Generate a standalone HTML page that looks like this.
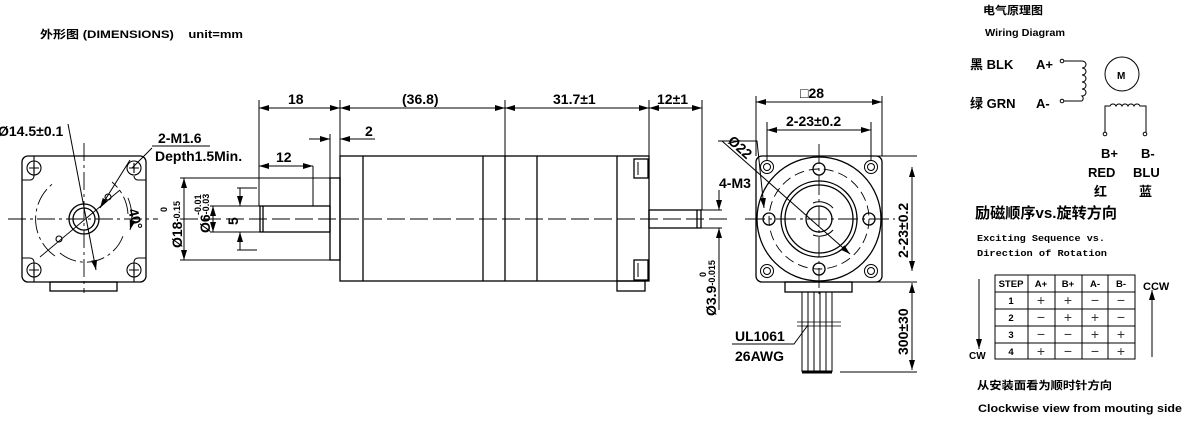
<!DOCTYPE html>
<html><head><meta charset="utf-8"><style>
html,body{margin:0;padding:0;background:#fff;}
svg{display:block;font-family:"Liberation Sans","Noto Sans CJK SC",sans-serif;}
.d{font-weight:bold;font-size:14px;}
</style></head><body>
<svg width="1195" height="421" viewBox="0 0 1195 421" xmlns="http://www.w3.org/2000/svg">
<defs>
<marker id="a" viewBox="0 0 10 6" refX="10" refY="3" markerWidth="10" markerHeight="6" orient="auto-start-reverse" markerUnits="userSpaceOnUse"><path d="M0,0 L10,3 L0,6 z" fill="#000"/></marker>
</defs>
<text x="40" y="38" font-size="11" font-weight="bold" textLength="203" lengthAdjust="spacingAndGlyphs">外形图 (DIMENSIONS)&#160;&#160;&#160; unit=mm</text>

<!-- LEFT FRONT VIEW -->
<g stroke="#000" fill="none" stroke-width="1.3">
<rect x="22" y="156" width="124" height="126" rx="6"/>
<rect x="50" y="282" width="67" height="9"/>
<circle cx="84" cy="219" r="15"/><circle cx="84" cy="219" r="11"/>
<g stroke-width="1.1">
<circle cx="34" cy="168" r="7"/><circle cx="134" cy="168" r="7"/><circle cx="34" cy="270" r="7"/><circle cx="134" cy="270" r="7"/>
<path d="M29 168h10M34 163v10M129 168h10M134 163v10M29 270h10M34 265v10M129 270h10M134 265v10"/>
<path d="M22 180h8a4 4 0 0 0 4 -4v-20M146 180h-8a4 4 0 0 1 -4 -4M22 258h8a4 4 0 0 1 4 4v20M146 258h-8a4 4 0 0 0 -4 4v20"/>
<circle cx="108" cy="197" r="3"/><circle cx="59" cy="239" r="3"/>
</g>
<g stroke-width="0.9" stroke-dasharray="18 4 3 4">
<path d="M8 219h150M84 143v150"/>
<path d="M55 256 A45 45 0 0 1 55 182"/><path d="M128 214 A45 45 0 0 0 112 182"/>
<path d="M60 253A40 40 0 0 0 124 233"/>
</g>
<path d="M68 124 L96 270" stroke-width="1" marker-end="url(#a)"/>
<path d="M130 160 L100 208" stroke-width="1" marker-end="url(#a)"/>
<path d="M40 257 L120 190" stroke-width="0.9"/>
<path d="M128 198 A50 50 0 0 1 130 230" stroke-width="0.9" marker-end="url(#a)"/>
<path d="M152 148 L132 168 M152 146h58" stroke-width="1"/>
</g>
<text x="-2" y="136" class="d">Ø14.5±0.1</text>
<text x="158" y="143" class="d">2-M1.6</text>
<text x="155" y="161" class="d">Depth1.5Min.</text>
<text class="d" transform="translate(128,210) rotate(75)">40°</text>

<!-- SIDE VIEW -->
<g stroke="#000" fill="none" stroke-width="1.3">
<rect x="340" y="156" width="309" height="125"/>
<path d="M363 156v125M483 156v125M505 156v125M537 156v125M617 156v125"/>
<rect x="634" y="159" width="14" height="19"/><rect x="634" y="260" width="14" height="20"/>
<path d="M638 162v13M638 263v14" stroke-width="1"/>
<rect x="617" y="281" width="28" height="10"/>
<rect x="330" y="178" width="10" height="82"/>
<rect x="260" y="206" width="70" height="26"/>
<path d="M263 206v26"/>
<rect x="649" y="210" width="52" height="18"/>
<path d="M697 210v18"/>
<path d="M180 219h550" stroke-width="0.9" stroke-dasharray="18 5"/>
<g stroke-width="1">
<path d="M259 100v106M340 100v56M505 100v56M649 100v56M702 100v110M330 134v44M313 166v40"/>
<path d="M259 108h81" marker-start="url(#a)" marker-end="url(#a)"/>
<path d="M340 108h165" marker-start="url(#a)" marker-end="url(#a)"/>
<path d="M505 108h144" marker-start="url(#a)" marker-end="url(#a)"/>
<path d="M649 108h53" marker-start="url(#a)" marker-end="url(#a)"/>
<path d="M309 139h21" marker-end="url(#a)"/><path d="M375 139h-35" marker-end="url(#a)"/>
<path d="M259 166h54" marker-start="url(#a)" marker-end="url(#a)"/>
<path d="M180 178h150M180 260h150M210 206h50M210 232h50M237 188h20M237 250h20"/>
<path d="M184 178v82" marker-start="url(#a)" marker-end="url(#a)"/>
<path d="M213 206v26" marker-start="url(#a)" marker-end="url(#a)"/>
<path d="M240 188v18" marker-end="url(#a)"/><path d="M240 250v-18" marker-end="url(#a)"/>
<path d="M698 210h24M698 228h24"/>
<path d="M719 190v20" marker-end="url(#a)"/><path d="M719 310v-82" marker-end="url(#a)"/>
</g>
</g>
<text x="288" y="104" class="d">18</text>
<text x="402" y="104" class="d">(36.8)</text>
<text x="553" y="104" class="d">31.7±1</text>
<text x="657" y="104" class="d">12±1</text>
<text x="365" y="136" class="d">2</text>
<text x="276" y="162" class="d">12</text>
<text class="d" transform="translate(182,248) rotate(-90)">Ø18<tspan font-size="9" dy="-2">-0.15</tspan></text>
<text font-weight="bold" font-size="9" transform="translate(167,212) rotate(-90)">0</text>
<text class="d" transform="translate(210,233) rotate(-90)">Ø6<tspan font-size="9" dy="-1">-0.03</tspan></text>
<text font-weight="bold" font-size="9" transform="translate(201,215) rotate(-90)">-0.01</text>
<text class="d" transform="translate(238,225) rotate(-90)">5</text>
<text class="d" transform="translate(716,316) rotate(-90)">Ø3.9<tspan font-size="9" dy="-1">-0.015</tspan></text>
<text font-weight="bold" font-size="9" transform="translate(706,277) rotate(-90)">0</text>

<!-- RIGHT END VIEW -->
<g stroke="#000" fill="none" stroke-width="1.3">
<rect x="756" y="156" width="126" height="126" rx="6"/>
<circle cx="819" cy="219" r="62"/>
<circle cx="819" cy="219" r="50" stroke-width="0.9" stroke-dasharray="10 5"/>
<circle cx="819" cy="219" r="38"/><circle cx="819" cy="219" r="34"/>
<circle cx="819" cy="219" r="13"/>
<path d="M813 203 A18 18 0 0 1 833 208 M813 235 A18 18 0 0 0 833 230" stroke-width="1"/>
<circle cx="819" cy="169" r="6"/><circle cx="819" cy="269" r="6"/><circle cx="769" cy="219" r="6"/><circle cx="869" cy="219" r="6"/>
<g stroke-width="1"><circle cx="767" cy="167" r="6.5"/><circle cx="767" cy="167" r="3.5"/><circle cx="871" cy="167" r="6.5"/><circle cx="871" cy="167" r="3.5"/><circle cx="767" cy="271" r="6.5"/><circle cx="767" cy="271" r="3.5"/><circle cx="871" cy="271" r="6.5"/><circle cx="871" cy="271" r="3.5"/></g>
<rect x="785" y="282" width="67" height="10"/>
<path d="M802 292v80M808 292v80M814 292v80M820 292v80M826 292v80M832 292v80" stroke-width="1"/>
<path d="M797 322h44M797 326h44" stroke-width="0.8"/>
<path d="M802 372h30" stroke-width="3"/>
<path d="M745 219h150M819 144v150" stroke-width="0.9" stroke-dasharray="20 4 3 4"/>
<g stroke-width="1">
<path d="M756 96v60M882 96v60M767 122v38M871 122v38M872 156h45M872 282h45M840 372h77"/>
<path d="M756 102h126" marker-start="url(#a)" marker-end="url(#a)"/>
<path d="M767 130h104" marker-start="url(#a)" marker-end="url(#a)"/>
<path d="M912 167v104" marker-start="url(#a)" marker-end="url(#a)"/>
<path d="M912 283v87" marker-start="url(#a)" marker-end="url(#a)"/>
<path d="M722 141 L850 254" marker-end="url(#a)"/>
<path d="M718 141h39 L764 208" marker-end="url(#a)"/>
<path d="M732 344h62 L808 325"/>
</g>
</g>
<text x="800" y="98" class="d">□28</text>
<text x="786" y="126" class="d">2-23±0.2</text>
<text class="d" transform="translate(908,258) rotate(-90)">2-23±0.2</text>
<text class="d" transform="translate(908,355) rotate(-90)">300±30</text>
<text class="d" transform="translate(727,142) rotate(42)">Ø22</text>
<text x="719" y="188" class="d">4-M3</text>
<text x="735" y="341" class="d">UL1061</text>
<text x="735" y="361" class="d">26AWG</text>

<!-- WIRING -->
<g font-weight="bold">
<text x="983" y="14" font-size="11" textLength="60" lengthAdjust="spacingAndGlyphs">电气原理图</text>
<text x="985" y="36" font-size="10.5" textLength="80" lengthAdjust="spacingAndGlyphs">Wiring Diagram</text>
<text x="970" y="69" font-size="13">黑 BLK</text>
<text x="1036" y="69" font-size="13">A+</text>
<text x="970" y="108" font-size="13">绿 GRN</text>
<text x="1036" y="108" font-size="13">A-</text>
<text x="1117" y="79" font-size="10">M</text>
<text x="1101" y="158" font-size="13">B+</text>
<text x="1141" y="158" font-size="13">B-</text>
<text x="1088" y="177" font-size="13">RED</text>
<text x="1133" y="177" font-size="13">BLU</text>
<text x="1094" y="196" font-size="13">红</text>
<text x="1139" y="196" font-size="13">蓝</text>
<text x="975" y="218" font-size="15" textLength="142" lengthAdjust="spacingAndGlyphs">励磁顺序vs.旋转方向</text>
<text x="977" y="241" font-size="9.5" font-family="Liberation Mono,monospace" textLength="128" lengthAdjust="spacingAndGlyphs">Exciting Sequence vs.</text>
<text x="977" y="256" font-size="9.5" font-family="Liberation Mono,monospace" textLength="130" lengthAdjust="spacingAndGlyphs">Direction of Rotation</text>
<text x="977" y="389" font-size="11" textLength="135" lengthAdjust="spacingAndGlyphs">从安装面看为顺时针方向</text>
<text x="978" y="412" font-size="11" textLength="204" lengthAdjust="spacingAndGlyphs">Clockwise view from mouting side</text>
</g>
<g stroke="#000" fill="none" stroke-width="1">
<circle cx="1062" cy="61" r="1.8"/><circle cx="1062" cy="101" r="1.8"/>
<path d="M1064 61h18M1064 101h18"/>
<path d="M1082 61 a4 3.5 0 0 1 0 7 a4 3.5 0 0 1 0 7 a4 3.5 0 0 1 0 7 a4 3.5 0 0 1 0 7 a4 3.5 0 0 1 0 7 a4 3.5 0 0 1 0 5"/>
<circle cx="1122" cy="74" r="17"/>
<path d="M1105 132v-26h5 a3.5 4 0 0 1 6 0 a3.5 4 0 0 1 6 0 a3.5 4 0 0 1 6 0 a3.5 4 0 0 1 6 0 a3.5 4 0 0 1 6 0 h6v26"/>
<circle cx="1105" cy="134" r="1.8"/><circle cx="1145" cy="134" r="1.8"/>
<rect x="995" y="275" width="140" height="84"/>
<path d="M995 292h140M995 309h140M995 326h140M995 343h140M1028 275v84M1055 275v84M1082 275v84M1108 275v84"/>
<path d="M979 279v70" marker-end="url(#a)"/>
<path d="M1152 357v-67" marker-end="url(#a)"/>
</g>
<g font-size="9.5" font-weight="bold" text-anchor="middle">
<text x="1011" y="287">STEP</text><text x="1041" y="287">A+</text><text x="1068" y="287">B+</text><text x="1095" y="287">A-</text><text x="1121" y="287">B-</text>
<text x="1011" y="304">1</text><text x="1011" y="321">2</text><text x="1011" y="338">3</text><text x="1011" y="355">4</text>
</g>
<g font-size="14" text-anchor="middle" fill="#333">
<text x="1041" y="305">+</text><text x="1068" y="305">+</text><text x="1095" y="305">−</text><text x="1121" y="305">−</text>
<text x="1041" y="322">−</text><text x="1068" y="322">+</text><text x="1095" y="322">+</text><text x="1121" y="322">−</text>
<text x="1041" y="339">−</text><text x="1068" y="339">−</text><text x="1095" y="339">+</text><text x="1121" y="339">+</text>
<text x="1041" y="356">+</text><text x="1068" y="356">−</text><text x="1095" y="356">−</text><text x="1121" y="356">+</text>
</g>
<text x="969" y="359" font-size="10" font-weight="bold">CW</text>
<text x="1143" y="290" font-size="11" font-weight="bold">CCW</text>
</svg>
</body></html>
